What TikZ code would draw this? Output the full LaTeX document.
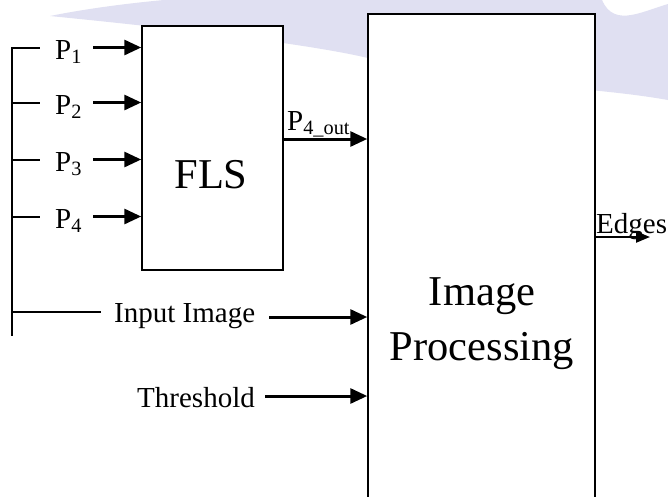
\documentclass[tikz,border=0pt]{standalone}
\usepackage{fontspec}
\setmainfont{Liberation Serif}
\usetikzlibrary{arrows.meta}
\definecolor{wm}{RGB}{224,224,242}
\begin{document}
\begin{tikzpicture}[x=1pt,y=-1pt,
  lbl/.style={font=\fontsize{29}{32}\selectfont, inner sep=0pt},
  big/.style={font=\fontsize{42.5}{50}\selectfont, inner sep=0pt},
  blk/.style={draw, line width=1.5pt, fill=white, inner sep=0pt},
  arr/.style={line width=3pt, -{Triangle[length=17pt,width=15pt]}},
  arrs/.style={line width=2.2pt, -{Triangle[length=14pt,width=11pt]}},
  ln/.style={line width=1.5pt}]
\clip (0,0) rectangle (668,496);
\fill[white] (0,0) rectangle (668,496);
% background watermark swoosh
\fill[wm] (50,16) .. controls (120,2) and (200,-4) .. (260,-6) -- (600,-6)
  .. controls (610,30) and (640,12) .. (668,4) -- (668,100)
  .. controls (640,95) and (610,92) .. (590,90) -- (368,58)
  .. controls (300,42) and (150,26) .. (50,16) -- cycle;
% blocks
\node[blk, minimum width=141pt, minimum height=244pt] (fls) at (212.5,148) {};
\node[big, anchor=base] (flst) at (211,188) {FLS};
\node[blk, minimum width=227pt, minimum height=500pt] (ip) at (481.5,264) {};
\node[big, anchor=base] (ipt1) at (482,305) {Image};
\node[big, anchor=base] (ipt2) at (482,360) {Processing};
% left bus
\coordinate (bt) at (12,47.25);
\coordinate (bb) at (12,336);
\draw[line width=2pt] (bt) -- (bb);
\foreach \i/\y in {1/48,2/103,3/160,4/217}{
  \coordinate (s\i) at (12,\y);
  \draw[ln] (s\i) -- ++(28,0);
  \node[lbl, anchor=base west] (p\i) at (55,\y+11) {P\textsubscript{\i}};
  \coordinate (a\i) at (93,\y-0.5);
  \draw[arr] (a\i) -- (a\i -| fls.west);
}
% FLS output
\coordinate (o1) at (283,139);
\node[lbl, anchor=base west] (p4out) at (287,130) {P\textsubscript{4\_out}};
\draw[arr] (fls.east |- o1) -- (ip.west |- o1);
% Input image
\coordinate (s5) at (12,312);
\draw[ln] (s5) -- (101,312);
\node[lbl, anchor=base west] (inimg) at (114,322) {Input Image};
\coordinate (a5) at (269,317);
\draw[arr] (a5) -- (a5 -| ip.west);
% Threshold
\node[lbl, anchor=base east] (thr) at (255,407) {Threshold};
\coordinate (a6) at (265,396);
\draw[arr] (a6) -- (a6 -| ip.west);
% Edges
\coordinate (e1) at (650,237);
\node[lbl, anchor=base west] (edges) at (596,233) {Edges};
\draw[arrs] (ip.east |- e1) -- (e1);
\end{tikzpicture}
\end{document}
